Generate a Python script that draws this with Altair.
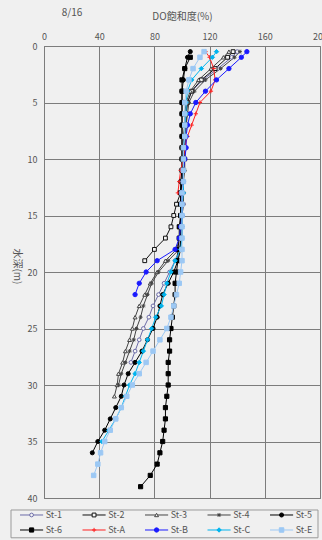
import altair as alt
import pandas as pd

# Station order as listed in the key
SERIES = ["St-1", "St-2", "St-3", "St-4", "St-5", "St-6", "St-A", "St-B", "St-C", "St-E"]

# Depth (m) and DO saturation (%) per station
DEPTH_ST1 = [0.5] + list(range(1, 29))
DO_ST1 = [140, 136, 126, 115, 107, 104, 103, 103, 102, 102, 102, 101, 101, 101, 101,
          100, 100, 99, 98, 95, 91, 87, 83, 79, 76, 72, 69, 66, 63]

DEPTH_ST2 = [0.5] + list(range(1, 20))
DO_ST2 = [137, 133, 124, 114, 107, 104, 103, 103, 102, 102, 102, 101, 100, 99, 96,
          94, 92, 88, 80, 73]

DEPTH_ST3 = [0.5] + list(range(1, 32))
DO_ST3 = [134, 130, 121, 112, 106, 103, 102, 102, 101, 101, 101, 101, 100, 100, 100,
          99, 99, 98, 96, 88, 82, 77, 73, 69, 66, 64, 62, 59, 57, 54, 53, 51]

DEPTH_ST4 = [0.5] + list(range(1, 31))
DO_ST4 = [142, 138, 128, 117, 109, 105, 104, 103, 103, 102, 102, 102, 101, 101, 101,
          100, 100, 100, 98, 90, 83, 78, 75, 72, 70, 67, 65, 62, 59, 56, 54]

DEPTH_ST5 = [0.5] + list(range(1, 37))
DO_ST5 = [106, 104, 102, 101, 100, 100, 100, 100, 100, 100, 100, 100, 99, 99, 99,
          99, 99, 99, 99, 97, 94, 90, 86, 84, 82, 79, 75, 71, 66, 61, 58, 56, 52, 48,
          44, 39, 35]

DEPTH_ST6 = list(range(1, 40))
DO_ST6 = [106, 102, 100, 100, 100, 100, 100, 100, 100, 100, 100, 100, 99, 99, 99,
          98, 98, 97, 97, 96, 95, 95, 94, 93, 92, 91, 91, 90, 90, 90, 89, 88, 88, 87,
          86, 84, 82, 77, 70]

DEPTH_STA = [0.5] + list(range(1, 14))
DO_STA = [117, 120, 123, 124, 121, 113, 110, 107, 104, 102, 101, 99, 98, 97]

DEPTH_STB = [0.5] + list(range(1, 23))
DO_STB = [147, 143, 134, 125, 117, 110, 106, 104, 103, 103, 102, 101, 101, 100, 100,
          100, 99, 98, 95, 82, 74, 69, 66]

DEPTH_STC = [0.5] + list(range(1, 36))
DO_STC = [125, 122, 114, 107, 104, 103, 103, 102, 102, 101, 101, 101, 101, 101, 100,
          100, 100, 100, 99, 95, 92, 89, 87, 85, 81, 78, 75, 72, 69, 66, 62, 59, 56,
          52, 47, 42]

DEPTH_STE = [0.5] + list(range(1, 39))
DO_STE = [116, 113, 108, 105, 103, 102, 102, 102, 102, 101, 101, 101, 101, 100, 100,
          100, 100, 100, 100, 100, 99, 98, 96, 94, 92, 89, 84, 79, 74, 69, 64, 60, 56,
          52, 48, 44, 41, 39, 36]

PROFILES = [
    ("St-1", DEPTH_ST1, DO_ST1), ("St-2", DEPTH_ST2, DO_ST2),
    ("St-3", DEPTH_ST3, DO_ST3), ("St-4", DEPTH_ST4, DO_ST4),
    ("St-5", DEPTH_ST5, DO_ST5), ("St-6", DEPTH_ST6, DO_ST6),
    ("St-A", DEPTH_STA, DO_STA), ("St-B", DEPTH_STB, DO_STB),
    ("St-C", DEPTH_STC, DO_STC), ("St-E", DEPTH_STE, DO_STE),
]

X_TICKS = list(range(0, 201, 20))
Y_TICKS = list(range(0, 41, 5))
DATE_LABEL = "8/16"

rows = []
for name, depths, vals in PROFILES:
    for d, v in zip(depths, vals):
        rows.append({"series": name, "depth": d, "value": v})
df = pd.DataFrame(rows)

# marker styles
ASTERISK = "M-1,0L1,0M0,-1L0,1M-0.7,-0.7L0.7,0.7M-0.7,0.7L0.7,-0.7"
PLUS = "M-1,0L1,0M0,-1L0,1"
LINE_COLORS = ["#6c6ca8", "#111111", "#444444", "#444444", "#000000", "#000000",
               "#ff2020", "#1a1aff", "#00b4ee", "#9cc8f4"]
SHAPES = ["circle", "square", "triangle-up", ASTERISK, "circle", "square",
          PLUS, "circle", "diamond", "square"]
FILLS = ["#f4f4f4", "#f4f4f4", "#f4f4f4", "#444444", "#000000", "#000000",
         "#ff2020", "#1a1aff", "#00b4ee", "#9cc8f4"]
SIZES = [14, 20, 18, 22, 18, 30, 22, 6, 14, 14]

color_scale = alt.Scale(domain=SERIES, range=LINE_COLORS)
shape_scale = alt.Scale(domain=SERIES, range=SHAPES)
fill_scale = alt.Scale(domain=SERIES, range=FILLS)
size_scale = alt.Scale(domain=SERIES, range=SIZES)

FONT = "Noto Sans CJK JP"
TEXT = "#555555"
GRID = "#7c7c7c"

x_enc = alt.X(
    "value:Q",
    scale=alt.Scale(domain=[0, 200], nice=False),
    axis=alt.Axis(orient="top", values=X_TICKS, title="DO飽和度(%)", ticks=False,
                  domain=False, labelPadding=5, titlePadding=11, labelFontSize=9,
                  labelFlush=False, titleFontSize=10, titleFontWeight="normal",
                  labelColor=TEXT, titleColor=TEXT, gridColor=GRID, gridWidth=1,
                  gridOpacity=1, labelFont=FONT, titleFont=FONT),
)
y_enc = alt.Y(
    "depth:Q",
    scale=alt.Scale(domain=[0, 40], reverse=True, nice=False),
    axis=alt.Axis(values=Y_TICKS, title="水深(m)", titleAngle=90, ticks=False,
                  domain=False, labelPadding=7, labelFontSize=9, labelFlush=False,
                  titleFontSize=10, titleFontWeight="normal", titleX=-28, titleY=220,
                  titleAlign="center", titleBaseline="middle", labelColor=TEXT,
                  titleColor=TEXT, gridColor=GRID, gridWidth=1, gridOpacity=1,
                  labelFont=FONT, titleFont=FONT),
)

base = alt.Chart(df)
lines = base.mark_line(strokeWidth=1).encode(
    x=x_enc,
    y=y_enc,
    color=alt.Color("series:N", scale=color_scale, legend=None),
    detail="series:N",
    order="depth:Q",
)
points = base.mark_point(opacity=1, fillOpacity=1, strokeWidth=1).encode(
    x="value:Q",
    y="depth:Q",
    shape=alt.Shape("series:N", scale=shape_scale, legend=None),
    fill=alt.Fill("series:N", scale=fill_scale, legend=None),
    stroke=alt.Stroke("series:N", scale=color_scale, legend=None),
    size=alt.Size("series:N", scale=size_scale, legend=None),
)
profiles = alt.layer(lines, points)

# key below the plot: two rows of five entries, one column unit = 62.5 px,
# one row unit = 15 px, placed under the plot with its own position scales
key_df = pd.DataFrame({
    "series": SERIES,
    "col": [i % 5 for i in range(len(SERIES))],
    "row": [i // 5 for i in range(len(SERIES))],
})
key_df["x0"] = key_df["col"]
key_df["x1"] = key_df["col"] + 0.37
key_df["xm"] = key_df["col"] + 0.185
key_df["xt"] = key_df["col"] + 0.41
box_df = pd.DataFrame({"bx0": [-0.144], "bx1": [4.768], "by0": [-0.333], "by1": [1.52]})

kx = alt.Scale(domain=[0.384, 4.8], nice=False, zero=False)
ky = alt.Scale(domain=[-31.267, -1.133], nice=False, zero=False, reverse=True)

key_box = alt.Chart(box_df).mark_rect(fill="#f0f0f0", stroke="#9a9a9a",
                                      strokeWidth=1).encode(
    x=alt.X("bx0:Q", scale=kx, axis=None),
    x2="bx1:Q",
    y=alt.Y("by0:Q", scale=ky, axis=None),
    y2="by1:Q",
)
kbase = alt.Chart(key_df)
key_lines = kbase.mark_rule(strokeWidth=1).encode(
    x=alt.X("x0:Q", scale=kx, axis=None),
    x2="x1:Q",
    y=alt.Y("row:Q", scale=ky, axis=None),
    color=alt.Color("series:N", scale=color_scale, legend=None),
)
key_points = kbase.mark_point(opacity=1, fillOpacity=1, strokeWidth=1).encode(
    x=alt.X("xm:Q", scale=kx, axis=None),
    y=alt.Y("row:Q", scale=ky, axis=None),
    shape=alt.Shape("series:N", scale=shape_scale, legend=None),
    fill=alt.Fill("series:N", scale=fill_scale, legend=None),
    stroke=alt.Stroke("series:N", scale=color_scale, legend=None),
    size=alt.Size("series:N", scale=size_scale, legend=None),
)
key_text = kbase.mark_text(align="left", baseline="middle", fontSize=9, color=TEXT,
                           font=FONT).encode(
    x=alt.X("xt:Q", scale=kx, axis=None),
    y=alt.Y("row:Q", scale=ky, axis=None),
    text="series:N",
)
key = alt.layer(key_box, key_lines, key_points, key_text)

date_text = alt.Chart(pd.DataFrame({"label": [DATE_LABEL]})).mark_text(
    align="center", baseline="middle", fontSize=10, color=TEXT, font=FONT
).encode(x=alt.value(28), y=alt.value(-33), text="label:N")

chart = alt.layer(profiles, key, date_text).resolve_scale(
    x="independent", y="independent"
).properties(
    width=276,
    height=452,
    autosize=alt.AutoSizeParams(type="none"),
    padding={"left": 44, "top": 46, "right": 2, "bottom": 42},
    view=alt.ViewBackground(stroke="#6a6a6a", strokeWidth=1, fill="#f0f0f0"),
).configure(
    background="#f0f0f0",
)

chart.save("out.html", embed_options={"renderer": "svg", "actions": False})
